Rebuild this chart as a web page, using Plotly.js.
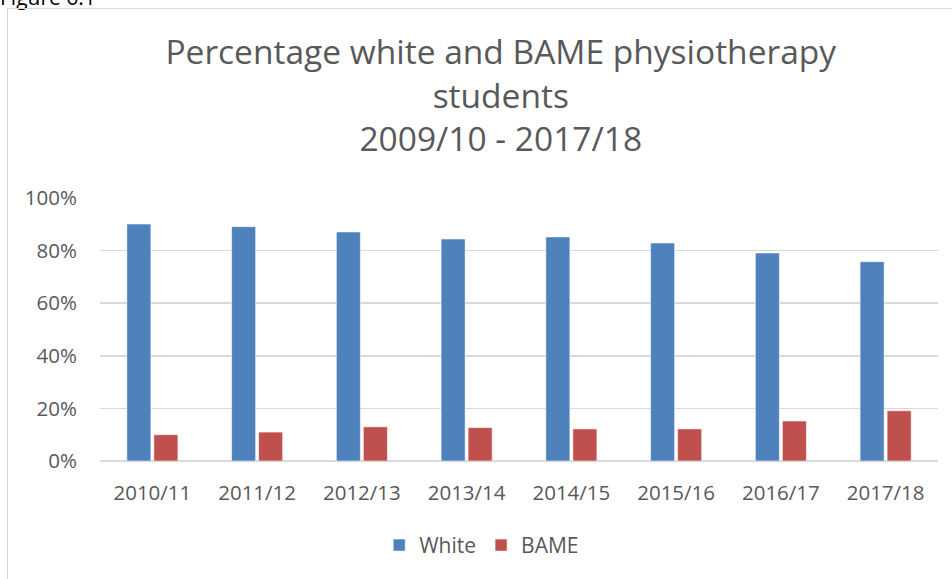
<!DOCTYPE html>
<html>
<head>
<meta charset="utf-8">
<script src="https://cdn.plot.ly/plotly-3.0.1.min.js"></script>
<style>
  html, body { margin: 0; padding: 0; background: #ffffff; overflow: hidden; }
  #wrap { position: relative; width: 952px; height: 579px; overflow: hidden; }
  #frame { position: absolute; left: 7px; top: 8px; width: 1000px; height: 700px;
           border-left: 1.5px solid #d9d9d9; border-top: 1.5px solid #d9d9d9; box-sizing: border-box; }
  #fig { position: absolute; left: 0; top: -17px; font-family: "Open Sans", sans-serif; font-size: 21px; color: #000; white-space: nowrap; }
  #chart { position: absolute; left: 0; top: 0; width: 952px; height: 579px; }
</style>
</head>
<body>
<div id="wrap">
  <div id="fig">Figure 6.1</div>
  <div id="frame"></div>
  <div id="chart"></div>
</div>
<script>
const categories = ["2010/11", "2011/12", "2012/13", "2013/14", "2014/15", "2015/16", "2016/17", "2017/18"];
const whiteValues = [0.901, 0.891, 0.871, 0.844, 0.852, 0.829, 0.791, 0.758];
const bameValues  = [0.100, 0.110, 0.130, 0.127, 0.122, 0.122, 0.152, 0.191];
const seriesNames = ["White", "BAME"];
const titleLines = ["Percentage white and BAME physiotherapy", "students", "2009/10 - 2017/18"];
const yTicks = [0, 0.2, 0.4, 0.6, 0.8, 1.0];
const yTickLabels = ["0%", "20%", "40%", "60%", "80%", "100%"];

const textColor = "#595959";
const fontFamily = "Open Sans, sans-serif";

const traces = [
  { type: "bar", name: seriesNames[0], x: categories, y: whiteValues,
    marker: { color: "#4F81BD", line: { color: "rgba(255,255,255,0.55)", width: 1 } }, hoverinfo: "skip" },
  { type: "bar", name: seriesNames[1], x: categories, y: bameValues,
    marker: { color: "#C0504D", line: { color: "rgba(255,255,255,0.55)", width: 1 } }, hoverinfo: "skip" }
];

const layout = {
  width: 952, height: 579,
  paper_bgcolor: "rgba(0,0,0,0)", plot_bgcolor: "rgba(0,0,0,0)",
  margin: { l: 100, r: 14, t: 198, b: 118, pad: 0 },
  barmode: "group", bargap: 0.484, bargroupgap: 0.11,
  font: { family: fontFamily, color: textColor, size: 20 },
  title: {
    text: titleLines.join("<br>"),
    font: { family: fontFamily, size: 33.5, color: textColor },
    x: 0.526, xanchor: "center", xref: "container",
    y: 0.889, yanchor: "top", yref: "container"
  },
  xaxis: {
    type: "category", showgrid: false, showline: false, zeroline: false,
    ticks: "outside", ticklen: 13, tickcolor: "rgba(0,0,0,0)",
    tickfont: { family: fontFamily, size: 20.5, color: textColor }, fixedrange: true
  },
  yaxis: {
    range: [0, 1], tickvals: yTicks, ticktext: yTickLabels,
    showgrid: true, gridcolor: "#d9d9d9", gridwidth: 1.5,
    zeroline: true, zerolinecolor: "#d9d9d9", zerolinewidth: 1.5, showline: false,
    ticks: "outside", ticklen: 18, tickcolor: "rgba(0,0,0,0)",
    tickfont: { family: fontFamily, size: 20.5, color: textColor }, fixedrange: true
  },
  showlegend: true,
  legend: {
    orientation: "h", x: 0.506, xanchor: "center", xref: "container",
    y: 0.058, yanchor: "middle", yref: "container",
    font: { family: fontFamily, size: 21, color: textColor },
    itemwidth: 30, tracegroupgap: 0
  }
};

Plotly.newPlot("chart", traces, layout, { displayModeBar: false, staticPlot: true });
</script>
</body>
</html>
